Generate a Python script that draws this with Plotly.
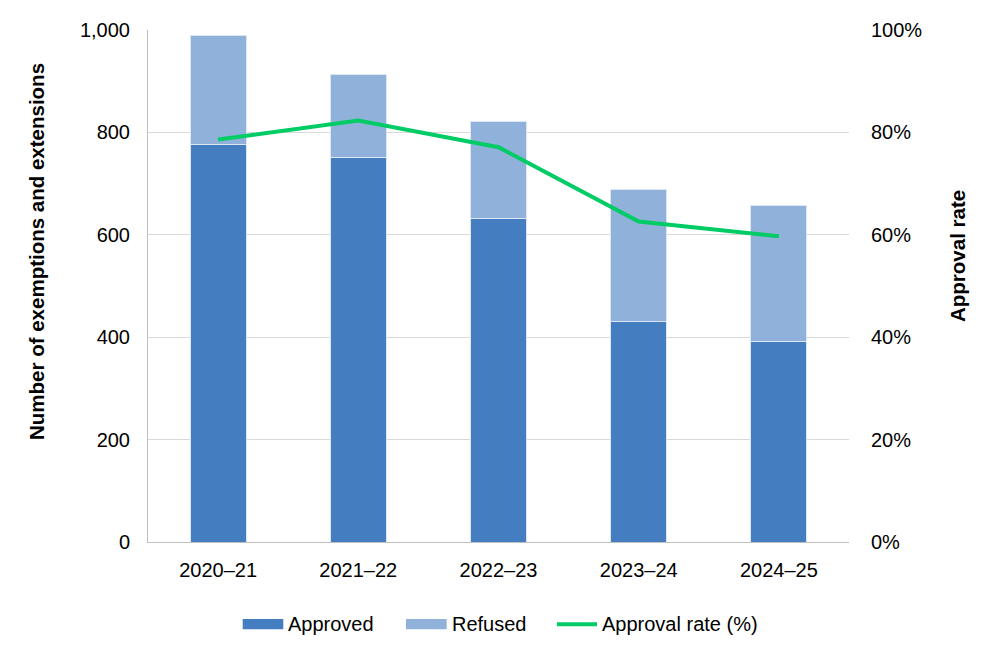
import plotly.graph_objects as go

years = ["2020–21", "2021–22", "2022–23", "2023–24", "2024–25"]
approved = [777, 751, 632, 431, 392]
refused = [213, 163, 189, 257, 266]
approval_rate = [78.6, 82.3, 77.1, 62.6, 59.7]

FONT = "Liberation Sans, Arial, sans-serif"
C_APP = "#457EC0"
C_REF = "#90B2DA"
C_LINE = "#00CC66"

W, H = 992, 657
L, R, T, B = 148, 143, 30, 115
pw = W - L - R
ph = H - T - B


def px(x):
    return (x - L) / pw


def py(y):
    return (H - B - y) / ph


fig = go.Figure()
fig.add_trace(go.Bar(x=years, y=approved, name="Approved",
                     marker=dict(color=C_APP, line=dict(color="#DCE6F4", width=1)),
                     yaxis="y"))
fig.add_trace(go.Bar(x=years, y=refused, name="Refused",
                     marker=dict(color=C_REF, line=dict(color="#DCE6F4", width=1)),
                     yaxis="y"))
fig.add_trace(go.Scatter(x=years, y=approval_rate, name="Approval rate (%)",
                         mode="lines", line=dict(color=C_LINE, width=4),
                         yaxis="y2"))

LEG_Y = 624.3
shapes = [
    dict(type="rect", xref="paper", yref="paper", x0=px(242.7), x1=px(283.3),
         y0=py(629.3), y1=py(619), fillcolor=C_APP, line=dict(width=0)),
    dict(type="rect", xref="paper", yref="paper", x0=px(406), x1=px(446.7),
         y0=py(629.3), y1=py(619), fillcolor=C_REF, line=dict(width=0)),
    dict(type="line", xref="paper", yref="paper", x0=px(557), x1=px(597),
         y0=py(LEG_Y), y1=py(LEG_Y), line=dict(color=C_LINE, width=4)),
]

annotations = [
    dict(text="<b>Number of exemptions and extensions</b>", textangle=-90,
         x=px(36), y=py(252), xref="paper", yref="paper", showarrow=False,
         font=dict(size=20.5), xanchor="center", yanchor="middle"),
    dict(text="<b>Approval rate</b>", textangle=-90,
         x=px(957), y=py(256), xref="paper", yref="paper", showarrow=False,
         font=dict(size=20.5), xanchor="center", yanchor="middle"),
    dict(text="Approved", x=px(286), y=py(LEG_Y), xref="paper", yref="paper",
         showarrow=False, xanchor="left", yanchor="middle", font=dict(size=20)),
    dict(text="Refused", x=px(450), y=py(LEG_Y), xref="paper", yref="paper",
         showarrow=False, xanchor="left", yanchor="middle", font=dict(size=20)),
    dict(text="Approval rate (%)", x=px(600), y=py(LEG_Y), xref="paper", yref="paper",
         showarrow=False, xanchor="left", yanchor="middle", font=dict(size=20)),
]

fig.update_layout(
    width=W, height=H,
    margin=dict(l=L, r=R, t=T, b=B),
    paper_bgcolor="white", plot_bgcolor="white",
    barmode="stack", bargap=0.6,
    font=dict(family=FONT, size=20, color="#000000"),
    showlegend=False,
    xaxis=dict(showline=True, linecolor="#BFBFBF", linewidth=1, mirror=False,
               ticks="outside", ticklen=10, tickcolor="rgba(0,0,0,0)",
               tickfont=dict(size=20)),
    yaxis=dict(range=[0, 1000], dtick=200, tickformat=",", showgrid=True,
               gridcolor="#D9D9D9", gridwidth=1, showline=True, linecolor="#BFBFBF",
               linewidth=1, mirror=False, zeroline=False,
               ticks="outside", ticklen=13, tickcolor="rgba(0,0,0,0)",
               tickfont=dict(size=20)),
    yaxis2=dict(range=[0, 100], dtick=20, ticksuffix="%", overlaying="y", side="right",
                showgrid=False, zeroline=False, showline=False,
                ticks="outside", ticklen=17, tickcolor="rgba(0,0,0,0)",
                tickfont=dict(size=20)),
    shapes=shapes,
    annotations=annotations,
)

fig.write_html("out.html")
